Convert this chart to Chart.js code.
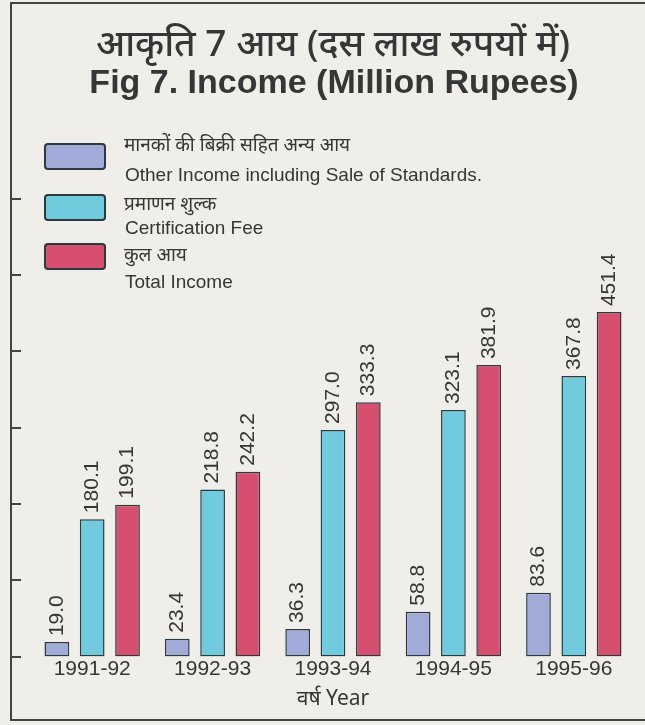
<!DOCTYPE html>
<html>
<head>
<meta charset="utf-8">
<script src="https://cdn.jsdelivr.net/npm/chart.js@4/dist/chart.umd.min.js"></script>
<style>
html,body{margin:0;padding:0;background:#efeee9;}
canvas{display:block;}
</style>
</head>
<body>
<canvas id="c" width="645" height="725"></canvas>
<script>
const categories = ['1991-92', '1992-93', '1993-94', '1994-95', '1995-96'];
const otherIncome = [19.0, 23.4, 36.3, 58.8, 83.6];
const certificationFee = [180.1, 218.8, 297.0, 323.1, 367.8];
const totalIncome = [199.1, 242.2, 333.3, 381.9, 451.4];
const yTicks = [0, 100, 200, 300, 400, 500, 600];
const seriesHindi = ['मानकों की बिक्री सहित अन्य आय', 'प्रमाणन शुल्क', 'कुल आय'];
const seriesEnglish = ['Other Income including Sale of Standards.', 'Certification Fee', 'Total Income'];
const titleHindi = 'आकृति 7 आय (दस लाख रुपयों में)';
const titleEnglish = 'Fig 7. Income (Million Rupees)';
const xTitle = 'वर्ष Year';

const TEXT = '#363636';
const EDGE = '#2b3a3e';
const FONT = '"Liberation Sans", Arial, sans-serif';
const HFONT = '"Noto Sans", "Liberation Sans", sans-serif';

const framePlugin = {
  id: 'frame',
  beforeDraw(chart) {
    const ctx = chart.ctx;
    ctx.save();
    ctx.fillStyle = '#efeee9';
    ctx.fillRect(0, 0, chart.width, chart.height);
    ctx.strokeStyle = '#444';
    ctx.lineWidth = 2;
    ctx.beginPath();
    ctx.moveTo(645, 3); ctx.lineTo(11, 3); ctx.lineTo(11, 720); ctx.lineTo(645, 720);
    ctx.stroke();
    // inward ticks placed through the y scale
    const y = chart.scales.y;
    yTicks.forEach(v => {
      const py = Math.round(y.getPixelForValue(v));
      ctx.beginPath(); ctx.moveTo(11, py); ctx.lineTo(21, py); ctx.stroke();
    });
    // titles
    ctx.fillStyle = TEXT;
    ctx.textAlign = 'center';
    ctx.textBaseline = 'middle';
    ctx.font = '500 37px ' + HFONT;
    ctx.fillText(titleHindi, 333, 45);
    ctx.font = 'bold 34px ' + FONT;
    ctx.fillText(titleEnglish, 334, 84);
    // legend
    const ds = chart.data.datasets;
    const sw = [[45, 144], [45, 195], [45, 244]];
    const hy = [146, 205, 256];
    const ey = [176, 229, 283];
    ds.forEach((d, i) => {
      const [sx, sy] = sw[i];
      ctx.fillStyle = d.backgroundColor;
      ctx.strokeStyle = EDGE;
      ctx.lineWidth = 2;
      ctx.beginPath();
      ctx.roundRect(sx, sy, 60, 25, 3);
      ctx.fill(); ctx.stroke();
      ctx.fillStyle = TEXT;
      ctx.textAlign = 'left';
      ctx.textBaseline = 'middle';
      ctx.font = '19px ' + HFONT;
      ctx.fillText(seriesHindi[i], 124, hy[i]);
      ctx.font = '19px ' + FONT;
      ctx.fillText(seriesEnglish[i], 125, ey[i]);
    });
    ctx.restore();
  },
  afterDatasetsDraw(chart) {
    const ctx = chart.ctx;
    ctx.save();
    ctx.fillStyle = TEXT;
    ctx.font = '21px ' + FONT;
    ctx.textAlign = 'left';
    ctx.textBaseline = 'middle';
    chart.data.datasets.forEach((d, i) => {
      const meta = chart.getDatasetMeta(i);
      meta.data.forEach((bar, j) => {
        ctx.save();
        ctx.translate(bar.x, bar.y - 6);
        ctx.rotate(-Math.PI / 2);
        ctx.fillText(d.data[j].toFixed(1), 0, 0);
        ctx.restore();
      });
    });
    ctx.restore();
  }
};

new Chart(document.getElementById('c'), {
  type: 'bar',
  data: {
    labels: categories,
    datasets: [
      { label: seriesEnglish[0], data: otherIncome, backgroundColor: '#a1abd8' },
      { label: seriesEnglish[1], data: certificationFee, backgroundColor: '#6fcbdd' },
      { label: seriesEnglish[2], data: totalIncome, backgroundColor: '#d64f6f' }
    ]
  },
  options: {
    responsive: false,
    animation: false,
    devicePixelRatio: 1,
    datasets: {
      bar: {
        borderColor: EDGE,
        borderWidth: 1.5,
        borderSkipped: false,
        categoryPercentage: 0.88,
        barPercentage: 0.7
      }
    },
    layout: { padding: { left: 32, right: 11, top: 46, bottom: 13 } },
    plugins: { legend: { display: false }, title: { display: false }, tooltip: { enabled: false } },
    scales: {
      x: {
        grid: { display: false, drawTicks: false },
        border: { display: false },
        ticks: { color: TEXT, font: { size: 21, family: FONT }, padding: 0 },
        title: { display: true, text: xTitle, color: TEXT, font: { size: 21, family: HFONT }, padding: { top: 5, bottom: 0 } }
      },
      y: {
        display: false,
        min: 0,
        max: 800
      }
    }
  },
  plugins: [framePlugin]
});
</script>
</body>
</html>
